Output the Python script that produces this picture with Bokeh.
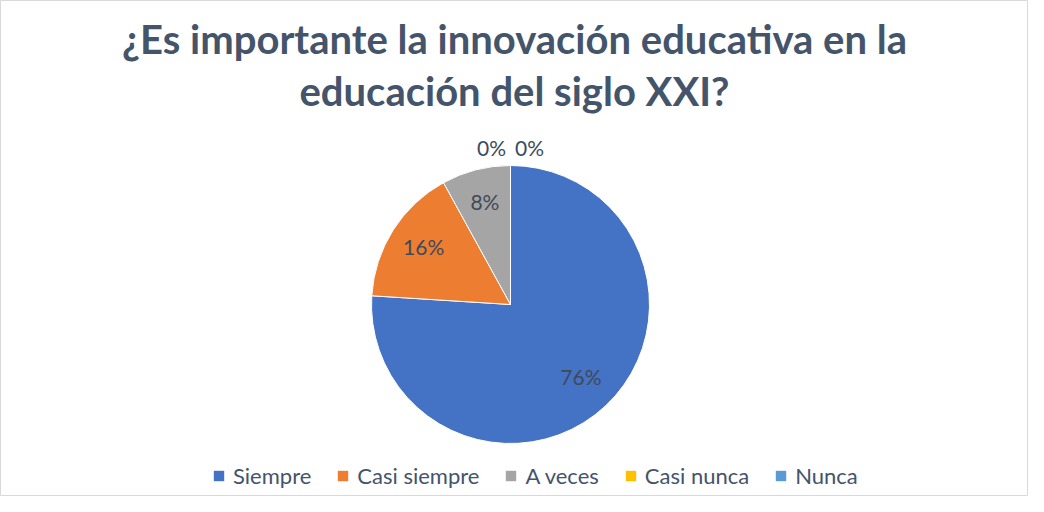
import math
from bokeh.plotting import figure
from bokeh.models import Range1d, Legend, LegendItem
from bokeh.core.properties import value
from bokeh.embed import file_html
from bokeh.resources import INLINE

title_lines = ["¿Es importante la innovación educativa en la", "educación del siglo XXI?"]
categories = ["Siempre", "Casi siempre", "A veces", "Casi nunca", "Nunca"]
shares = [0.76, 0.16, 0.08, 0.0, 0.0]
colors = ["#4472C4", "#ED7D31", "#A5A5A5", "#FFC000", "#5B9BD5"]

W, H = 1028, 496
p = figure(width=W, height=H, output_backend="svg", toolbar_location=None,
           x_range=Range1d(0, W), y_range=Range1d(0, H),
           min_border=0, outline_line_color="#D9D9D9", background_fill_color="white")
p.axis.visible = False
p.grid.visible = False

def Y(page_y):
    return H - page_y

cx, cy, R = 510, Y(304), 139
text_color = "#44546A"

# Title
p.text(x=[514, 514], y=[Y(38), Y(90)], text=title_lines, text_align="center",
       text_baseline="middle", text_font=value("Lato"), text_font_style="bold",
       text_font_size="40px", text_color=text_color)

# Wedges
items = []
cum = 0.0
lab_x, lab_y, lab_t = [], [], []
zero_count = 0
nan = float("nan")
for cat, s, c in zip(categories, shares, colors):
    a0 = math.pi / 2 - cum * 2 * math.pi
    a1 = math.pi / 2 - (cum + s) * 2 * math.pi
    mid = (cum + s / 2) * 2 * math.pi
    if s > 0:
        p.wedge(x=cx, y=cy, radius=R, start_angle=a0, end_angle=a1, direction="clock",
                fill_color=c, line_color="white", line_width=1)
    proxy = p.rect(x=[nan], y=[nan], width=1, height=1, fill_color=c, line_color=None)
    items.append(LegendItem(label=cat, renderers=[proxy]))
    if s > 0:
        rr = R * 0.74
        lab_x.append(cx + rr * math.sin(mid))
        lab_y.append(cy + rr * math.cos(mid) + 3)
    else:
        rr = R * 1.11
        off = -19 if zero_count == 0 else 19
        zero_count += 1
        lab_x.append(cx + rr * math.sin(mid) + off)
        lab_y.append(cy + rr * math.cos(mid) + 3)
    lab_t.append(f"{round(s * 100)}%")
    cum += s

p.text(x=lab_x, y=lab_y, text=lab_t, text_align="center", text_baseline="middle",
       text_font=value("Lato"), text_font_size="21px", text_color="#404A5A")

legend = Legend(items=items, orientation="horizontal", location=(212, 7),
                glyph_width=13, glyph_height=13, label_standoff=8, spacing=25,
                label_text_font="Lato", label_text_font_size="22px",
                label_text_color=text_color, border_line_color=None,
                background_fill_alpha=0, padding=0, margin=0)
p.add_layout(legend, "center")

open("out.html", "w").write(file_html(p, INLINE))
